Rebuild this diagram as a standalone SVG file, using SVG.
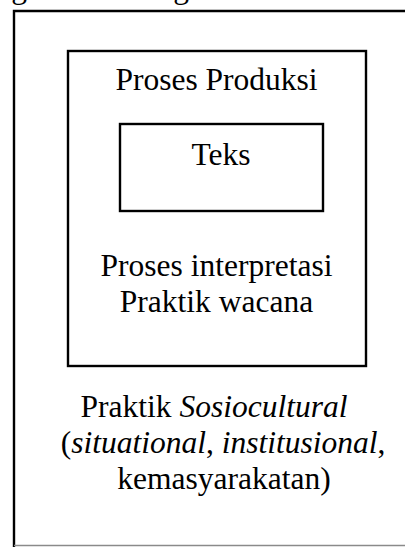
<svg xmlns="http://www.w3.org/2000/svg" width="405" height="547" viewBox="0 0 405 547">
  <style>
    .frame { fill: none; stroke: #000; stroke-width: 2.4; }
    .label { font-family: "Liberation Serif", "Times New Roman", serif; font-size: 31.5px; fill: #000; text-anchor: middle; }
    .it { font-style: italic; }
  </style>
  <rect width="405" height="547" fill="#fff"/>

  <!-- descenders of the caption line above the frame -->
  <g id="caption">
    <text class="label" x="19" y="-2" style="text-anchor:middle">g</text>
    <text class="label" x="181" y="-2" style="text-anchor:middle">g</text>
  </g>

  <!-- outer frame: socio-cultural practice -->
  <g id="sosiocultural">
    <path d="M14 547 V11 H405" class="frame"/>
    <line x1="14" y1="545.5" x2="405" y2="545.5" stroke="#8a8a8a" stroke-width="1.6"/>
    <text class="label" x="214" y="417">Praktik <tspan class="it">Sosiocultural</tspan></text>
    <text class="label" x="223" y="453">(<tspan class="it">situational</tspan>, <tspan class="it">institusional</tspan>,</text>
    <text class="label" x="224" y="489">kemasyarakatan)</text>
  </g>

  <!-- middle frame: discourse practice -->
  <g id="wacana">
    <rect x="68" y="51" width="298" height="315" class="frame"/>
    <text class="label" x="216.5" y="90">Proses Produksi</text>
    <text class="label" x="216.5" y="276">Proses interpretasi</text>
    <text class="label" x="216.5" y="312">Praktik wacana</text>
  </g>

  <!-- inner frame: text -->
  <g id="teks">
    <rect x="120" y="124" width="203" height="87" class="frame"/>
    <text class="label" x="221" y="165">Teks</text>
  </g>

  <g id="connectors"></g>
</svg>
